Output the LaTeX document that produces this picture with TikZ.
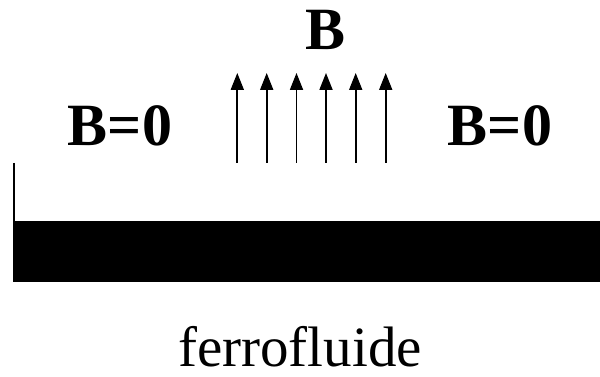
\documentclass[tikz,border=0pt]{standalone}
\usepackage{fontspec}
\setmainfont{Liberation Serif}
\usetikzlibrary{arrows.meta}
\begin{document}
\begin{tikzpicture}[x=1pt,y=-1pt,
  fieldarrow/.style={line width=1.8pt,-{Triangle[length=17pt,width=13pt]}},
  boldlabel/.style={font=\fontsize{60}{62}\selectfont\bfseries,anchor=base,inner sep=0pt},
  plainlabel/.style={font=\fontsize{57}{60}\selectfont,anchor=base,inner sep=0pt}]
\useasboundingbox (0,0) rectangle (600,377);
\fill[black] (13,221) rectangle (600,282);
\coordinate (wt) at (14,163);
\coordinate (wb) at (14,221);
\draw[line width=1.8pt] (wt) -- (wb);
\foreach \i/\x in {1/237.3,2/266.7,3/296.5,4/326,5/355.7,6/385.7}{
  \coordinate (s\i) at (\x,163);
  \coordinate (e\i) at (\x,73);
  \draw[fieldarrow] (s\i) -- (e\i);
}
\node[boldlabel] (Btop) at (326,50) {B};
\node[boldlabel] (Bl) at (120,146) {B=0};
\node[boldlabel] (Br) at (500,146) {B=0};
\node[plainlabel] (ff) at (300,366) {ferrofluide};
\end{tikzpicture}
\end{document}
